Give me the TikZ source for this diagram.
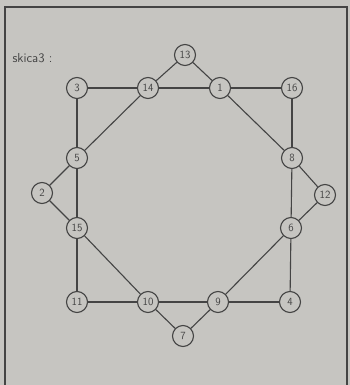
\documentclass[tikz,border=0pt]{standalone}
\usepackage{tikz}
\usetikzlibrary{positioning}
\definecolor{paper}{HTML}{C6C5C1}
\definecolor{pencil}{HTML}{444444}
\tikzset{
  vertex/.style={circle, draw=pencil, line width=1.1pt, fill=paper, minimum size=21pt, inner sep=0pt, font=\sffamily\fontsize{11}{12}\selectfont, text=pencil},
  edge/.style={draw=pencil, line width=1.1pt},
  frame/.style={draw=pencil, line width=1.3pt},
  caption/.style={font=\sffamily\fontsize{13}{14}\selectfont, text=pencil, anchor=west}
}
\begin{document}
\begin{tikzpicture}[x=1pt,y=-1pt]
\useasboundingbox[fill=paper] (0,0) rectangle (350,385);
\draw[frame] (5,385) -- (5,7) -- (347,7) -- (347,385);
\node[caption] (ttl) at (9,58) {skica3 :};
% top row
\node[vertex] (n13) at (185,55) {13};
\node[vertex] (n3) at (77,88) {3};
\node[vertex] (n14) at (148,88) {14};
\node[vertex] (n1) at (220,88) {1};
\node[vertex] (n16) at (292,88) {16};
% sides
\node[vertex] (n5) at (77,158) {5};
\node[vertex] (n8) at (292,158) {8};
\node[vertex] (n2) at (42,193) {2};
\node[vertex] (n12) at (325,195) {12};
\node[vertex] (n15) at (77,228) {15};
\node[vertex] (n6) at (291,228) {6};
% bottom row
\node[vertex] (n11) at (77,302) {11};
\node[vertex] (n10) at (148,302) {10};
\node[vertex] (n9) at (218,302) {9};
\node[vertex] (n4) at (290,302) {4};
\node[vertex] (n7) at (183,336) {7};
\foreach \a/\b in {n3/n14, n14/n1, n1/n16, n13/n14, n13/n1,
                   n3/n5, n5/n15, n15/n11, n16/n8, n8/n6, n6/n4,
                   n11/n10, n10/n9, n9/n4, n10/n7, n7/n9,
                   n14/n5, n1/n8, n15/n10, n6/n9,
                   n5/n2, n2/n15, n8/n12, n12/n6}
  \draw[edge] (\a) -- (\b);
\end{tikzpicture}
\end{document}
